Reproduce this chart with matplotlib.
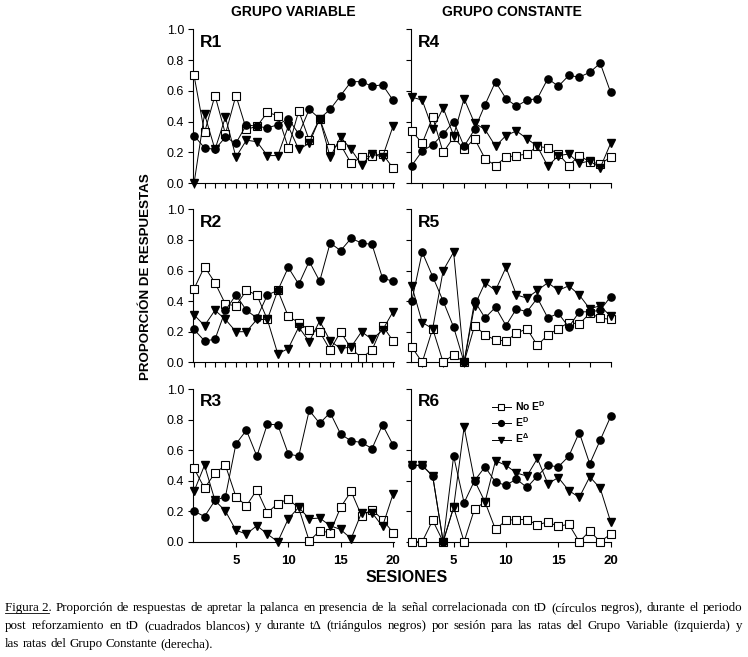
import numpy as np
import matplotlib
matplotlib.use('Agg')
import matplotlib.pyplot as plt
from matplotlib.lines import Line2D

plt.rcParams['font.family'] = ['Liberation Sans', 'DejaVu Sans']
plt.rcParams['mathtext.fontset'] = 'custom'
plt.rcParams['mathtext.rm'] = 'Liberation Sans:bold'
plt.rcParams['mathtext.it'] = 'Liberation Sans:bold'
plt.rcParams['mathtext.bf'] = 'Liberation Sans:bold'

# data
sessions = list(range(1, 21))

r1_no_ed = [0.70, 0.33, 0.57, 0.32, 0.57, 0.35, 0.37, 0.46, 0.44, 0.23, 0.47, 0.28, 0.42, 0.23, 0.25, 0.13, 0.17, 0.18, 0.19, 0.10]
r1_ed = [0.31, 0.23, 0.22, 0.30, 0.26, 0.38, 0.37, 0.36, 0.38, 0.42, 0.32, 0.48, 0.42, 0.48, 0.57, 0.66, 0.66, 0.63, 0.64, 0.54]
r1_ea = [0.00, 0.45, 0.22, 0.43, 0.17, 0.28, 0.27, 0.18, 0.18, 0.37, 0.22, 0.26, 0.42, 0.17, 0.30, 0.22, 0.12, 0.19, 0.17, 0.37]

r2_no_ed = [0.48, 0.625, 0.52, 0.38, 0.37, 0.47, 0.44, 0.28, 0.47, 0.30, 0.26, 0.21, 0.20, 0.08, 0.20, 0.09, 0.03, 0.08, 0.24, 0.14]
r2_ed = [0.215, 0.14, 0.15, 0.34, 0.44, 0.34, 0.29, 0.44, 0.47, 0.62, 0.51, 0.66, 0.53, 0.78, 0.73, 0.81, 0.78, 0.77, 0.55, 0.53]
r2_ea = [0.31, 0.24, 0.34, 0.28, 0.20, 0.20, 0.28, 0.28, 0.055, 0.09, 0.23, 0.135, 0.27, 0.14, 0.09, 0.10, 0.20, 0.15, 0.21, 0.33]

r3_no_ed = [0.48, 0.35, 0.45, 0.50, 0.295, 0.235, 0.34, 0.19, 0.25, 0.28, 0.22, 0.005, 0.07, 0.06, 0.225, 0.33, 0.17, 0.21, 0.145, 0.06]
r3_ed = [0.20, 0.165, 0.27, 0.295, 0.64, 0.73, 0.56, 0.77, 0.765, 0.575, 0.56, 0.86, 0.775, 0.845, 0.705, 0.66, 0.65, 0.61, 0.765, 0.635]
r3_ea = [0.33, 0.50, 0.27, 0.20, 0.075, 0.05, 0.105, 0.05, 0.0, 0.15, 0.225, 0.15, 0.155, 0.105, 0.08, 0.02, 0.19, 0.19, 0.10, 0.31]

r4_no_ed = [0.34, 0.26, 0.43, 0.20, 0.30, 0.22, 0.29, 0.16, 0.115, 0.17, 0.18, 0.19, 0.24, 0.23, 0.19, 0.115, 0.18, 0.14, 0.125, 0.17]
r4_ed = [0.115, 0.21, 0.25, 0.32, 0.40, 0.24, 0.35, 0.51, 0.66, 0.55, 0.50, 0.54, 0.55, 0.68, 0.63, 0.70, 0.69, 0.72, 0.78, 0.59]
r4_ea = [0.56, 0.54, 0.35, 0.49, 0.31, 0.55, 0.39, 0.35, 0.24, 0.31, 0.34, 0.29, 0.24, 0.11, 0.18, 0.19, 0.13, 0.145, 0.10, 0.26]

r5_no_ed = [0.10, 0.0, 0.22, 0.0, 0.05, 0.0, 0.24, 0.18, 0.145, 0.14, 0.19, 0.22, 0.11, 0.18, 0.22, 0.26, 0.25, 0.32, 0.29, 0.28]
r5_ed = [0.40, 0.72, 0.56, 0.40, 0.23, 0.0, 0.40, 0.29, 0.36, 0.24, 0.35, 0.33, 0.42, 0.29, 0.32, 0.23, 0.33, 0.33, 0.34, 0.43]
r5_ea = [0.50, 0.26, 0.22, 0.60, 0.72, 0.0, 0.37, 0.52, 0.47, 0.62, 0.44, 0.42, 0.47, 0.52, 0.47, 0.50, 0.44, 0.35, 0.37, 0.30]

r6_no_ed = [0.0, 0.0, 0.14, 0.0, 0.225, 0.0, 0.215, 0.26, 0.08, 0.14, 0.145, 0.145, 0.11, 0.13, 0.10, 0.115, 0.0, 0.07, 0.0, 0.05]
r6_ed = [0.50, 0.50, 0.43, 0.0, 0.56, 0.255, 0.40, 0.49, 0.39, 0.37, 0.41, 0.355, 0.43, 0.50, 0.49, 0.56, 0.715, 0.51, 0.665, 0.82]
r6_ea = [0.50, 0.50, 0.43, 0.0, 0.225, 0.75, 0.40, 0.26, 0.53, 0.50, 0.45, 0.43, 0.545, 0.38, 0.42, 0.335, 0.29, 0.425, 0.35, 0.13]

panels = [
    ('R1', r1_no_ed, r1_ed, r1_ea),
    ('R4', r4_no_ed, r4_ed, r4_ea),
    ('R2', r2_no_ed, r2_ed, r2_ea),
    ('R5', r5_no_ed, r5_ed, r5_ea),
    ('R3', r3_no_ed, r3_ed, r3_ea),
    ('R6', r6_no_ed, r6_ed, r6_ea),
]
legend_labels = ['No E$^{\\mathrm{D}}$', 'E$^{\\mathrm{D}}$', 'E$^{\\Delta}$']
x_ticklabels = ['5', '10', '15', '20']

caption_1 = "Figura 2. Proporción de respuestas de apretar la palanca en presencia de la señal correlacionada con tD (círculos negros), durante el periodo"
caption_2 = "post reforzamiento en tD (cuadrados blancos) y durante tΔ (triángulos negros) por sesión para las ratas del Grupo Variable (izquierda) y"
caption_3 = "las ratas del Grupo Constante (derecha)."

W, H = 748, 657
fig = plt.figure(figsize=(W / 100, H / 100), dpi=100)

col_left = [193, 410.7]
rows = [(29.3, 183.3), (209.3, 362.3), (389.0, 541.7)]
ax_w = 200.5
xmin, xmax = 0.9, 20.05
minor_ticks = {'R1': sessions, 'R2': sessions, 'R4': sessions[1::2], 'R5': sessions[1::2],
               'R3': [5, 10, 15, 20], 'R6': [5, 10, 15, 20]}

sq_style = dict(marker='s', markersize=5.2, markerfacecolor='white', markeredgecolor='black',
                markeredgewidth=0.8, color='black', linewidth=0.7, clip_on=False)
ci_style = dict(marker='o', markersize=5.2, markerfacecolor='black', markeredgecolor='black',
                color='black', linewidth=0.7, clip_on=False)
tr_style = dict(marker='v', markersize=5.8, markerfacecolor='black', markeredgecolor='black',
                color='black', linewidth=0.7, clip_on=False)

axes = []
for i, (name, no_ed, ed, ea) in enumerate(panels):
    r, c = divmod(i, 2)
    top, bot = rows[r]
    ax = fig.add_axes([col_left[c] / W, 1 - bot / H, ax_w / W, (bot - top) / H])
    l1, = ax.plot(sessions, no_ed, **sq_style, zorder=3)
    l3, = ax.plot(sessions, ea, **tr_style, zorder=4)
    l2, = ax.plot(sessions, ed, **ci_style, zorder=5)
    ax.set_xlim(xmin, xmax)
    ax.set_ylim(0, 1)
    for s in ['top', 'right']:
        ax.spines[s].set_visible(False)
    for s in ['left', 'bottom']:
        ax.spines[s].set_linewidth(0.8)
    ax.set_yticks(np.arange(0, 1.01, 0.2))
    ax.tick_params(axis='y', direction='out', length=3.5, width=0.8, pad=3, labelsize=9)
    ax.tick_params(axis='x', direction='out', length=3.5, width=0.8, pad=6)
    if c == 0:
        ax.set_yticklabels(['%.1f' % v for v in np.arange(0, 1.01, 0.2)])
    else:
        ax.set_yticklabels([])
    ax.set_xticks(minor_ticks[name])
    if r == 2:
        ax.set_xticklabels(x_ticklabels, fontsize=9.5, fontweight='bold')
    else:
        ax.set_xticklabels([])
    ax.text(0.035, 0.965, name, transform=ax.transAxes, fontsize=12.5, fontweight='bold',
            va='top', ha='left')
    if name == 'R6':
        ax.legend([l1, l2, l3], legend_labels, loc='upper left', bbox_to_anchor=(0.38, 0.97),
                  frameon=False, prop=dict(size=7.5, weight='bold'), handlelength=1.8,
                  handletextpad=0.4, labelspacing=0.25, borderpad=0, markerscale=0.8)
    axes.append(ax)

fig.text(293 / W, 1 - 12 / H, 'GRUPO VARIABLE', fontsize=10, fontweight='bold', ha='center', va='center')
fig.text(512 / W, 1 - 12 / H, 'GRUPO CONSTANTE', fontsize=10, fontweight='bold', ha='center', va='center')
fig.text(146 / W, 1 - 277 / H, 'PROPORCIÓN DE RESPUESTAS', fontsize=9.6, fontweight='bold',
         rotation=90, ha='center', va='center')
fig.text(407 / W, 1 - 577 / H, 'SESIONES', fontsize=11.5, fontweight='bold', ha='center', va='center')

# caption, justified like the original
renderer = fig.canvas.get_renderer()
cap_x0, cap_x1 = 5, 742


def text_width(s, size):
    t = fig.text(0, 0, s, family='Liberation Serif', fontsize=size)
    w = t.get_window_extent(renderer).width
    t.remove()
    return w


# pick the size so the two full lines nearly fill the width
base = 8.0
cap_size = min(base * (cap_x1 - cap_x0) * 0.985 / text_width(line, base) for line in [caption_1, caption_2])


def caption_line(line, y, justify=True):
    words = line.split(' ')
    if words[0] == 'Figura':
        words = ['Figura 2.'] + words[2:]
    widths = [text_width(w, cap_size) for w in words]
    if justify:
        gap = (cap_x1 - cap_x0 - sum(widths)) / (len(words) - 1)
    else:
        gap = text_width('a a', cap_size) - 2 * text_width('a', cap_size)
    x = cap_x0
    for w, wd in zip(words, widths):
        fig.text(x / W, 1 - y / H, w, va='baseline', ha='left', family='Liberation Serif', fontsize=cap_size)
        x += wd + gap


caption_line(caption_1, 611)
caption_line(caption_2, 629)
caption_line(caption_3, 647, justify=False)
ul = text_width('Figura 2', cap_size)
fig.add_artist(Line2D([cap_x0 / W, (cap_x0 + ul) / W], [1 - 613 / H, 1 - 613 / H], color='black', linewidth=0.6))

fig.savefig('out.png', dpi=100)
